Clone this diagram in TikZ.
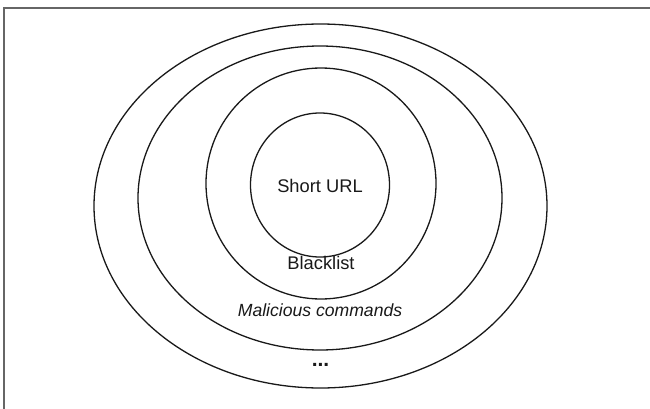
\documentclass[tikz,border=0pt]{standalone}
\usepackage{fontspec}
\setmainfont{Liberation Sans}
\begin{document}
\begin{tikzpicture}[x=1pt,y=-1pt,
  ring/.style={draw=black!90,line width=1.3pt},
  lbl/.style={inner sep=0pt,anchor=base,font=\fontsize{18.3}{20}\selectfont,text=black!90},
  frameline/.style={draw=black!60,line width=2pt}]
\useasboundingbox (0,0) rectangle (650,409);
\fill[white] (0,0) rectangle (650,409);
\draw[frameline] (3.7,409) -- (3.7,8.5) -- (650,8.5);
\draw[ring] (320.5,206) ellipse [x radius=226.5, y radius=182];
\draw[ring] (320,198) ellipse [x radius=182, y radius=152];
\draw[ring] (321,183.5) ellipse [x radius=115, y radius=115.5];
\draw[ring] (320,185) ellipse [x radius=69.5, y radius=72];
\node[lbl] (surl) at (320,192.7) {Short URL};
\node[lbl] (bl) at (321,269) {Blacklist};
\node[lbl,font=\fontsize{17.6}{20}\selectfont\itshape] (mc) at (320,316.7) {Malicious commands};
\node[lbl,font=\fontsize{21}{22}\selectfont\bfseries] (dots) at (320.5,366) {...};
\end{tikzpicture}
\end{document}
